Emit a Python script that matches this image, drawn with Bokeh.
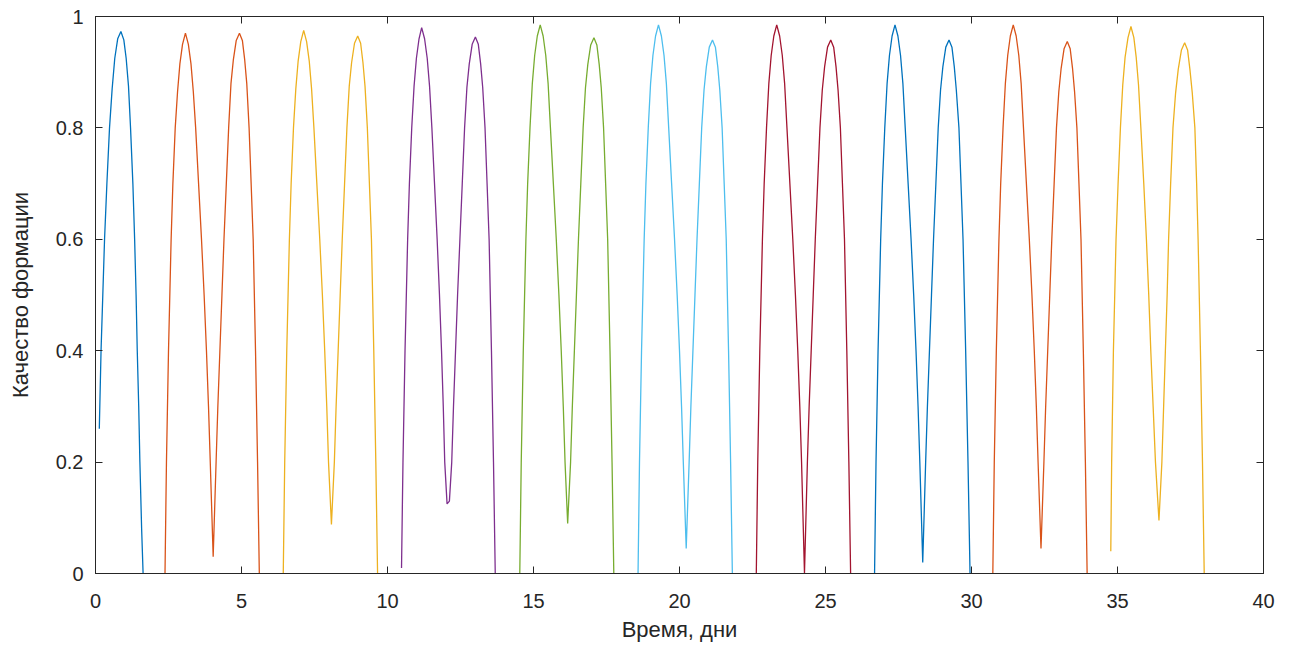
from bokeh.plotting import figure
from bokeh.models import Range1d, LinearAxis, FixedTicker, CustomJSTickFormatter
from bokeh.embed import file_html
from bokeh.resources import INLINE

# ---- data (time in days, formation quality) ----
x1 = [0.13, 0.16, 0.19, 0.25, 0.31, 0.39, 0.48, 0.57, 0.66, 0.76, 0.87, 0.97, 1.05, 1.13, 1.20, 1.28, 1.34, 1.39, 1.43, 1.48, 1.52, 1.58, 1.63]
y1 = [0.26, 0.33, 0.40, 0.50, 0.60, 0.70, 0.80, 0.87, 0.925, 0.96, 0.973, 0.958, 0.925, 0.875, 0.80, 0.70, 0.60, 0.50, 0.40, 0.30, 0.20, 0.08, 0.0]

x2 = [2.38, 2.43, 2.50, 2.59, 2.65, 2.73, 2.81, 2.89, 2.98, 3.08, 3.18, 3.27, 3.35, 3.43, 3.53, 3.63, 3.72, 3.80, 3.87, 3.93, 4.03,
      4.13, 4.19, 4.26, 4.33, 4.40, 4.48, 4.56, 4.64, 4.72, 4.82, 4.93, 5.03, 5.11, 5.18, 5.26, 5.33, 5.40, 5.48, 5.55, 5.61]
y2 = [0.0, 0.2, 0.4, 0.6, 0.7, 0.8, 0.865, 0.915, 0.95, 0.97, 0.95, 0.915, 0.865, 0.8, 0.7, 0.6, 0.5, 0.4, 0.3, 0.2, 0.03,
      0.2, 0.3, 0.4, 0.5, 0.6, 0.7, 0.8, 0.88, 0.922, 0.957, 0.97, 0.957, 0.922, 0.88, 0.8, 0.7, 0.6, 0.4, 0.2, 0.0]

x3 = [6.43, 6.48, 6.55, 6.64, 6.70, 6.78, 6.86, 6.94, 7.03, 7.13, 7.23, 7.32, 7.40, 7.48, 7.58, 7.68, 7.77, 7.85, 7.92, 7.98, 8.08,
      8.18, 8.24, 8.31, 8.38, 8.45, 8.53, 8.61, 8.69, 8.77, 8.87, 8.98, 9.08, 9.16, 9.23, 9.31, 9.38, 9.45, 9.53, 9.60, 9.66]
y3 = [0.0, 0.2, 0.4, 0.6, 0.7, 0.8, 0.87, 0.92, 0.955, 0.975, 0.955, 0.92, 0.87, 0.8, 0.7, 0.6, 0.5, 0.4, 0.3, 0.2, 0.088,
      0.2, 0.3, 0.4, 0.5, 0.6, 0.7, 0.8, 0.875, 0.917, 0.952, 0.965, 0.952, 0.917, 0.875, 0.8, 0.7, 0.6, 0.4, 0.2, 0.0]

x4 = [10.48, 10.53, 10.60, 10.69, 10.75, 10.83, 10.91, 10.99, 11.08, 11.17, 11.27, 11.36, 11.44, 11.52, 11.61, 11.70, 11.78, 11.85, 11.91, 11.96,
      12.04, 12.12, 12.20, 12.26, 12.33, 12.40, 12.48, 12.56, 12.64, 12.72, 12.80, 12.90, 13.01, 13.11, 13.19, 13.26, 13.34, 13.41, 13.48, 13.56, 13.63, 13.69]
y4 = [0.01, 0.2, 0.4, 0.6, 0.7, 0.8, 0.875, 0.925, 0.96, 0.98, 0.96, 0.925, 0.875, 0.8, 0.7, 0.6, 0.5, 0.4, 0.3, 0.2,
      0.125, 0.13, 0.2, 0.3, 0.4, 0.5, 0.6, 0.7, 0.8, 0.873, 0.915, 0.95, 0.963, 0.95, 0.915, 0.873, 0.8, 0.7, 0.6, 0.4, 0.2, 0.0]

x5 = [14.53, 14.58, 14.65, 14.74, 14.80, 14.88, 14.96, 15.04, 15.13, 15.23, 15.33, 15.42, 15.50, 15.58, 15.68, 15.78, 15.87, 15.95, 16.02, 16.08, 16.17,
      16.27, 16.33, 16.40, 16.47, 16.54, 16.62, 16.70, 16.78, 16.86, 16.96, 17.07, 17.17, 17.25, 17.32, 17.40, 17.47, 17.54, 17.62, 17.69, 17.75]
y5 = [0.0, 0.2, 0.4, 0.6, 0.7, 0.8, 0.88, 0.93, 0.965, 0.985, 0.965, 0.93, 0.88, 0.8, 0.7, 0.6, 0.5, 0.4, 0.3, 0.2, 0.09,
      0.2, 0.3, 0.4, 0.5, 0.6, 0.7, 0.8, 0.872, 0.914, 0.949, 0.962, 0.949, 0.914, 0.872, 0.8, 0.7, 0.6, 0.4, 0.2, 0.0]

x6 = [18.58, 18.63, 18.70, 18.79, 18.85, 18.93, 19.01, 19.09, 19.18, 19.28, 19.38, 19.47, 19.55, 19.63, 19.73, 19.83, 19.92, 20.00, 20.07, 20.13, 20.23,
      20.33, 20.39, 20.46, 20.53, 20.60, 20.68, 20.76, 20.84, 20.92, 21.02, 21.13, 21.23, 21.31, 21.38, 21.46, 21.53, 21.60, 21.68, 21.75, 21.81]
y6 = [0.0, 0.2, 0.4, 0.6, 0.7, 0.8, 0.88, 0.93, 0.965, 0.985, 0.965, 0.93, 0.88, 0.8, 0.7, 0.6, 0.5, 0.4, 0.3, 0.2, 0.045,
      0.2, 0.3, 0.4, 0.5, 0.6, 0.7, 0.8, 0.868, 0.91, 0.945, 0.958, 0.945, 0.91, 0.868, 0.8, 0.7, 0.6, 0.4, 0.2, 0.0]

x7 = [22.63, 22.68, 22.75, 22.84, 22.90, 22.98, 23.06, 23.14, 23.23, 23.33, 23.43, 23.52, 23.60, 23.68, 23.78, 23.88, 23.97, 24.05, 24.12, 24.18, 24.28,
      24.38, 24.44, 24.51, 24.58, 24.65, 24.73, 24.81, 24.89, 24.97, 25.07, 25.18, 25.28, 25.36, 25.43, 25.51, 25.58, 25.65, 25.73, 25.80, 25.86]
y7 = [0.0, 0.2, 0.4, 0.6, 0.7, 0.8, 0.88, 0.93, 0.965, 0.985, 0.965, 0.93, 0.88, 0.8, 0.7, 0.6, 0.5, 0.4, 0.3, 0.2, 0.0,
      0.2, 0.3, 0.4, 0.5, 0.6, 0.7, 0.8, 0.868, 0.91, 0.945, 0.958, 0.945, 0.91, 0.868, 0.8, 0.7, 0.6, 0.4, 0.2, 0.0]

x8 = [26.68, 26.73, 26.80, 26.89, 26.95, 27.03, 27.11, 27.19, 27.28, 27.38, 27.48, 27.57, 27.65, 27.73, 27.83, 27.93, 28.02, 28.10, 28.17, 28.23, 28.33,
      28.43, 28.49, 28.56, 28.63, 28.70, 28.78, 28.86, 28.94, 29.02, 29.12, 29.23, 29.33, 29.41, 29.48, 29.57, 29.64, 29.71, 29.80, 29.88, 29.95]
y8 = [0.0, 0.2, 0.4, 0.6, 0.7, 0.8, 0.88, 0.93, 0.965, 0.985, 0.965, 0.93, 0.88, 0.8, 0.7, 0.6, 0.5, 0.4, 0.3, 0.2, 0.02,
      0.2, 0.3, 0.4, 0.5, 0.6, 0.7, 0.8, 0.868, 0.91, 0.945, 0.958, 0.945, 0.91, 0.868, 0.8, 0.7, 0.6, 0.4, 0.2, 0.0]

x9 = [30.73, 30.78, 30.85, 30.94, 31.00, 31.08, 31.16, 31.24, 31.33, 31.43, 31.53, 31.62, 31.70, 31.78, 31.88, 31.98, 32.07, 32.15, 32.22, 32.28, 32.38,
      32.48, 32.54, 32.61, 32.68, 32.75, 32.83, 32.91, 32.99, 33.07, 33.17, 33.28, 33.38, 33.46, 33.53, 33.61, 33.68, 33.75, 33.83, 33.90, 33.96]
y9 = [0.0, 0.2, 0.4, 0.6, 0.7, 0.8, 0.88, 0.93, 0.965, 0.985, 0.965, 0.93, 0.88, 0.8, 0.7, 0.6, 0.5, 0.4, 0.3, 0.2, 0.045,
      0.2, 0.3, 0.4, 0.5, 0.6, 0.7, 0.8, 0.865, 0.907, 0.942, 0.955, 0.942, 0.907, 0.865, 0.8, 0.7, 0.6, 0.4, 0.2, 0.0]

x10 = [34.77, 34.80, 34.86, 34.95, 35.02, 35.10, 35.18, 35.26, 35.36, 35.46, 35.56, 35.64, 35.72, 35.80, 35.90, 35.99, 36.07, 36.14, 36.22, 36.30, 36.42,
       36.52, 36.58, 36.64, 36.70, 36.75, 36.82, 36.90, 36.99, 37.08, 37.19, 37.30, 37.40, 37.48, 37.56, 37.65, 37.71, 37.76, 37.84, 37.91, 37.97]
y10 = [0.04, 0.2, 0.4, 0.6, 0.7, 0.8, 0.877, 0.927, 0.962, 0.982, 0.962, 0.927, 0.877, 0.8, 0.7, 0.6, 0.5, 0.4, 0.3, 0.2, 0.095,
       0.2, 0.3, 0.4, 0.5, 0.6, 0.7, 0.8, 0.863, 0.905, 0.94, 0.953, 0.94, 0.905, 0.863, 0.8, 0.7, 0.6, 0.4, 0.2, 0.0]

segments_x = [x1, x2, x3, x4, x5, x6, x7, x8, x9, x10]
segments_y = [y1, y2, y3, y4, y5, y6, y7, y8, y9, y10]
colors = ["#0072BD", "#D95319", "#EDB120", "#7E2F8E", "#77AC30",
          "#4DBEEE", "#A2142F", "#0072BD", "#D95319", "#EDB120"]

x_ticks = [0, 5, 10, 15, 20, 25, 30, 35, 40]
y_ticks = [0, 0.2, 0.4, 0.6, 0.8, 1]
y_tick_labels = {0: "0", 0.2: "0.2", 0.4: "0.4", 0.6: "0.6", 0.8: "0.8", 1: "1"}
x_label = "Время, дни"
y_label = "Качество формации"

FONT = "Liberation Sans"
INK = "#262626"

p = figure(width=1293, height=648, output_backend="svg", toolbar_location=None,
           x_range=Range1d(0, 40), y_range=Range1d(0, 1),
           min_border_left=95, min_border_right=30, min_border_top=16, min_border_bottom=75,
           background_fill_color="white", border_fill_color="white")
p.outline_line_color = INK
p.outline_line_width = 1
p.xgrid.visible = False
p.ygrid.visible = False

for xs, ys, c in zip(segments_x, segments_y, colors):
    p.line(xs, ys, line_color=c, line_width=1.3)

def style_axis(ax):
    ax.axis_line_color = INK
    ax.major_tick_line_color = INK
    ax.major_tick_in = 7
    ax.major_tick_out = 0
    ax.minor_tick_line_color = None
    ax.major_label_text_font = FONT
    ax.major_label_text_color = INK
    ax.major_label_text_font_size = "20px"
    ax.axis_label_text_font = FONT
    ax.axis_label_text_color = INK
    ax.axis_label_text_font_size = "22px"
    ax.axis_label_text_font_style = "normal"

xa = p.xaxis[0]
ya = p.yaxis[0]
xa.ticker = FixedTicker(ticks=x_ticks)
ya.ticker = FixedTicker(ticks=y_ticks)
ya.major_label_overrides = y_tick_labels
style_axis(xa)
style_axis(ya)
xa.axis_label = x_label
ya.axis_label = y_label
xa.major_label_standoff = 20
xa.axis_label_standoff = 6
ya.major_label_standoff = 12
ya.axis_label_standoff = 20

blank = CustomJSTickFormatter(code="return ''")
top = LinearAxis(ticker=FixedTicker(ticks=x_ticks), formatter=blank)
right = LinearAxis(ticker=FixedTicker(ticks=y_ticks), formatter=blank)
for ax in (top, right):
    style_axis(ax)
    ax.major_label_standoff = 0
p.add_layout(top, "above")
p.add_layout(right, "right")

open("out.html", "w").write(file_html(p, INLINE))
